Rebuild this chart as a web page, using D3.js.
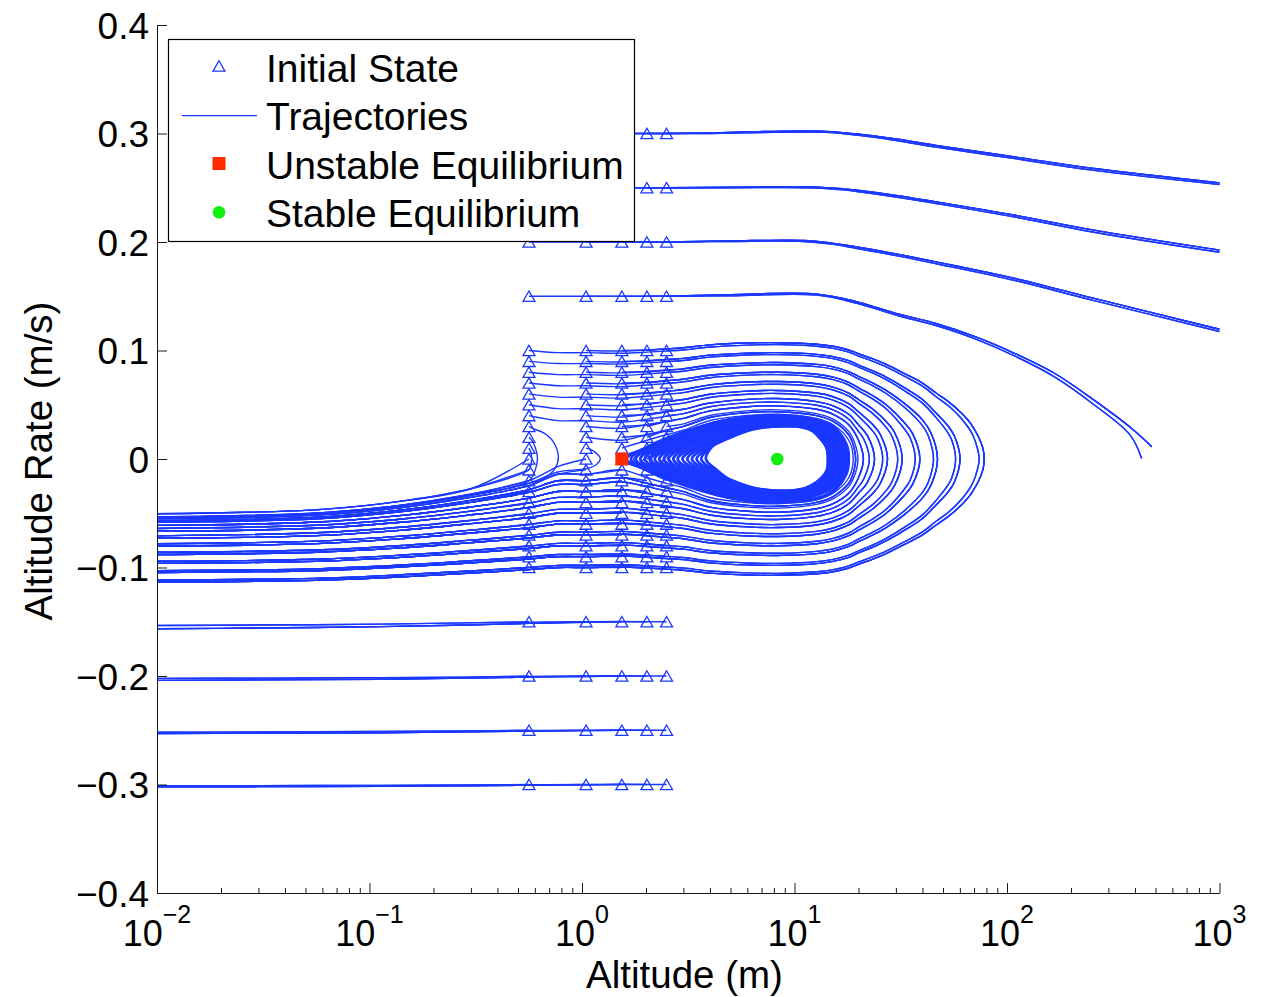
<!DOCTYPE html>
<html><head><meta charset="utf-8">
<script src="https://cdn.jsdelivr.net/npm/d3@7"></script>
<style>body{margin:0;background:#fff}svg text{font-family:"Liberation Sans",Arial,Helvetica,sans-serif}</style>
</head><body><svg id="chart" width="1262" height="997"></svg>
<script>
// ---------------- data ----------------
const initH = [0.563, 1.045, 1.54, 2.02, 2.5];
const initV = [0.3,0.25,0.2,0.15,0.1,0.09,0.08,0.07,0.06,0.05,0.04,0.03,0.02,0.01,0,-0.01,-0.02,-0.03,-0.04,-0.05,-0.06,-0.07,-0.08,-0.09,-0.1,-0.15,-0.2,-0.25,-0.3];
const unstableEq = [[1.54, 0]];
const stableEq = [[8.3, 0]];

const yTicks = [-0.4,-0.3,-0.2,-0.1,0,0.1,0.2,0.3,0.4];
const xMajor = [0.01,0.1,1,10,100,1000];
const xMajorExp = ["\u22122","\u22121","0","1","2","3"];
const xMinor = [0.02,0.03,0.04,0.05,0.06,0.07,0.08,0.09,0.2,0.3,0.4,0.5,0.6,0.7,0.8,0.9,2,3,4,5,6,7,8,9,20,30,40,50,60,70,80,90,200,300,400,500,600,700,800,900];

// fast upper trajectories (two nearly coincident variants per row)
const top030a = [[2.5,0.3],[4,0.3005],[8,0.302],[14,0.302],[19.7,0.2995],[30,0.295],[46.3,0.289],[109,0.2784],[257,0.2677],[1000,0.2545]];
const top030b = [[2.5,0.3],[4,0.3],[8,0.301],[14,0.3012],[19.7,0.2985],[30,0.2935],[46.3,0.2875],[109,0.2768],[257,0.266],[1000,0.253]];
const top025a = [[2.5,0.25],[5,0.2505],[12,0.2508],[17,0.249],[19.7,0.2477],[30,0.243],[46.3,0.237],[109,0.2247],[257,0.2109],[1000,0.1925]];
const top025b = [[2.5,0.25],[5,0.25],[12,0.25],[17,0.248],[19.7,0.2465],[30,0.2415],[46.3,0.2355],[109,0.223],[257,0.209],[1000,0.1905]];
const top020a = [[2.5,0.2],[5,0.201],[11,0.2015],[15,0.199],[19.7,0.1955],[30,0.189],[46.3,0.1817],[109,0.1664],[257,0.148],[1000,0.1196]];
const top020b = [[2.5,0.2],[5,0.2005],[11,0.2005],[15,0.198],[19.7,0.194],[30,0.1875],[46.3,0.18],[109,0.1645],[257,0.146],[1000,0.1175]];
const top015a = [[2.5,0.15],[5,0.1515],[12.8,0.152],[19.7,0.1448],[30.3,0.134],[46.3,0.1249],[71.3,0.1125],[109,0.0972],[168,0.0788],[257,0.0542],[395,0.0265],[480,0.0112]];
const top015b = [[2.5,0.15],[5,0.1505],[12.8,0.151],[19.7,0.1435],[30.3,0.1325],[46.3,0.123],[71.3,0.1105],[109,0.0948],[168,0.0755],[257,0.05],[380,0.022],[430,0.0005]];
const topRowsV = [0.3,0.25,0.2,0.15];

// fast lower trajectories
const bot015a = [[2.02,-0.15],[1.54,-0.1498],[1.045,-0.15],[0.563,-0.1503],[0.287,-0.151],[0.113,-0.1522],[0.03,-0.153],[0.01,-0.1535]];
const bot015b = [[2.02,-0.1502],[1.54,-0.15],[1.045,-0.1505],[0.563,-0.1515],[0.287,-0.153],[0.113,-0.1545],[0.03,-0.1558],[0.01,-0.1565]];
const bot020a = [[2.02,-0.2],[1.54,-0.1998],[1.045,-0.2],[0.563,-0.2003],[0.287,-0.201],[0.113,-0.2015],[0.03,-0.202],[0.01,-0.2022]];
const bot020b = [[2.02,-0.2002],[1.54,-0.2],[1.045,-0.2004],[0.563,-0.201],[0.287,-0.202],[0.113,-0.203],[0.03,-0.2036],[0.01,-0.204]];
const bot025a = [[2.02,-0.25],[1.54,-0.2498],[1.045,-0.25],[0.563,-0.2502],[0.287,-0.2507],[0.113,-0.2512],[0.03,-0.2516],[0.01,-0.2518]];
const bot025b = [[2.02,-0.2502],[1.54,-0.25],[1.045,-0.2503],[0.563,-0.2508],[0.287,-0.2515],[0.113,-0.2523],[0.03,-0.2528],[0.01,-0.253]];
const bot030a = [[2.02,-0.3],[1.54,-0.2998],[1.045,-0.3],[0.563,-0.3002],[0.287,-0.3005],[0.113,-0.3008],[0.03,-0.301],[0.01,-0.3012]];
const bot030b = [[2.02,-0.3002],[1.54,-0.3],[1.045,-0.3003],[0.563,-0.3007],[0.287,-0.3012],[0.113,-0.3017],[0.03,-0.302],[0.01,-0.3022]];
const botRowsV = [-0.15,-0.2,-0.25,-0.3];

// loop / band trajectories: |v| read at these altitude stations, per energy level
const stationH = [0.01,0.06,0.15,0.3,0.563,0.77,1.045,1.54,2.02,2.5,3,4,6,8.3,12.7,15.2,18,20,23.4,27,33,40,46.4,53,60.1,68,77];
const lvl0115 = [0.1134,0.1116,0.1084,0.1051,0.102,0.1,0.1,0.0995,0.1005,0.1015,0.1025,0.1052,0.1069,0.1072,0.1058,0.1039,0.1005,0.097,0.0922,0.0872,0.0787,0.07,0.0608,0.0529,0.0436,0.0316,0.01];
const tip0115 = [[78,0]];
const lvl0111 = [0.1116,0.1098,0.1065,0.1032,0.1,0.098,0.098,0.0975,0.0985,0.0995,0.1005,0.1032,0.105,0.1054,0.1039,0.102,0.0985,0.0949,0.09,0.0849,0.0762,0.0671,0.0574,0.049,0.0387,0.0245];
const tip0111 = [[71,0.016],[74,0]];
const lvl0096 = [0.1046,0.1027,0.0992,0.0957,0.0922,0.09,0.09,0.0894,0.0906,0.0917,0.0927,0.0957,0.0976,0.098,0.0964,0.0943,0.0906,0.0866,0.0812,0.0755,0.0656,0.0548,0.0424,0.03];
const tip0096 = [[56.5,0.0214],[60.1,0]];
const lvl00925 = [0.103,0.101,0.0975,0.0938,0.0903,0.088,0.088,0.0875,0.0886,0.0897,0.0908,0.0939,0.0958,0.0962,0.0946,0.0925,0.0886,0.0846,0.0791,0.0731,0.0628,0.0515,0.0381,0.0235];
const tip00925 = [[55,0.0173],[57.3,0]];
const lvl0079 = [0.0962,0.0941,0.0903,0.0863,0.0825,0.08,0.08,0.0794,0.0806,0.0819,0.0831,0.0864,0.0884,0.0889,0.0872,0.0849,0.0806,0.0762,0.07,0.0632,0.051,0.0361];
const tip0079 = [[44,0.0235],[47.1,0]];
const lvl00755 = [0.0943,0.0922,0.0883,0.0843,0.0803,0.0778,0.0778,0.0771,0.0784,0.0797,0.0809,0.0843,0.0864,0.0869,0.0851,0.0828,0.0784,0.0738,0.0675,0.0604,0.0474,0.0308];
const tip00755 = [[42.5,0.0219],[45.1,0]];
const lvl0064 = [0.088,0.0857,0.0815,0.0771,0.0728,0.07,0.07,0.0693,0.0707,0.0721,0.0735,0.0772,0.0795,0.08,0.0781,0.0755,0.0707,0.0656,0.0583,0.05,0.0332];
const tip0064 = [[36,0.0232],[38.9,0]];
const lvl00605 = [0.086,0.0837,0.0794,0.0748,0.0704,0.0675,0.0675,0.0667,0.0682,0.0696,0.0711,0.0749,0.0773,0.0778,0.0758,0.0731,0.0682,0.0628,0.0552,0.0464,0.0274];
const tip00605 = [[35,0.0195],[37,0]];
const lvl0051 = [0.0803,0.0778,0.0731,0.0682,0.0632,0.06,0.06,0.0592,0.0608,0.0624,0.064,0.0683,0.0709,0.0714,0.0693,0.0663,0.0608,0.0548,0.0458,0.0346];
const tip0051 = [[29.5,0.0249],[32.1,0]];
const lvl00475 = [0.0781,0.0755,0.0707,0.0656,0.0604,0.057,0.057,0.0561,0.0579,0.0596,0.0612,0.0657,0.0683,0.0689,0.0667,0.0636,0.0579,0.0515,0.0418,0.0292];
const tip00475 = [[28.8,0.0207],[30.6,0]];
const lvl004 = [0.0731,0.0704,0.0652,0.0596,0.0539,0.05,0.05,0.049,0.051,0.0529,0.0548,0.0597,0.0626,0.0632,0.0608,0.0574,0.051,0.0436,0.0316];
const tip004 = [[25.3,0.0228],[27.4,0]];
const lvl00365 = [0.0707,0.0678,0.0624,0.0566,0.0505,0.0464,0.0464,0.0453,0.0474,0.0495,0.0515,0.0567,0.0597,0.0604,0.0579,0.0543,0.0474,0.0394,0.0255];
const tip00365 = [[24.7,0.0182],[26,0]];
const lvl0031 = [0.0667,0.0636,0.0579,0.0515,0.0447,0.04,0.04,0.0387,0.0412,0.0436,0.0458,0.0516,0.055,0.0557,0.0529,0.049,0.0412,0.0316];
const tip0031 = [[22,0.0217],[23.8,0]];
const lvl00275 = [0.064,0.0608,0.0548,0.048,0.0406,0.0354,0.0354,0.0339,0.0367,0.0394,0.0418,0.0481,0.0517,0.0524,0.0495,0.0453,0.0367,0.0255];
const tip00275 = [[21.2,0.0182],[22.5,0]];
const lvl0024 = [0.0612,0.0579,0.0515,0.0442,0.0361,0.03,0.03,0.0283,0.0316,0.0346,0.0374,0.0443,0.0482,0.049,0.0458,0.0412,0.0316,0.0173];
const tip0024 = [[21.1,0]];
const lvl00205 = [0.0583,0.0548,0.048,0.04,0.0308,0.0235,0.0235,0.0212,0.0255,0.0292,0.0324,0.0401,0.0444,0.0453,0.0418,0.0367,0.0255];
const tip00205 = [[19,0.0173],[19.9,0]];
const lvl0019 = [0.057,0.0534,0.0464,0.0381,0.0283,0.02,0.02,0.0173,0.0224,0.0265,0.03,0.0382,0.0427,0.0436,0.04,0.0346,0.0224];
const tip0019 = [[18.7,0.0158],[19.4,0]];
const lvl0017 = [0.0552,0.0515,0.0442,0.0354,0.0245,0.0141,0.0141,0.01,0.0173,0.0224,0.0265,0.0355,0.0402,0.0412,0.0374,0.0316,0.0173];
const tip0017 = [[18.9,0]];
const lvl0015 = [0.0534,0.0495,0.0418,0.0324,0.02];
const lvl0012 = [0.0505,0.0464,0.0381,0.0274,0.01];

// which level each initial state follows
const loopRowV = [0.1,0.09,0.08,0.07,0.06,0.05,0.04];
const loopKeyLow = ["0111","00925","00755","00605","00475","00365","00275"];
const loopKeyHigh = ["0115","0096","0079","0064","0051","004","0031"];
const colGroup = ["low","high","high","high","low"];
const escapeExtra = [[0.03,1,"0024"],[0.03,2,"0024"],[0.03,3,"0024"],[0.03,4,"00205"],[0.02,1,"0019"],[0.02,2,"0019"],[0.02,3,"0019"],[0.01,2,"0017"]];
const leftExtra = [[-0.03,0,"00205"],[-0.03,1,"0024"],[-0.03,2,"0024"],[-0.03,3,"0024"],[-0.03,4,"00205"],[-0.02,0,"0015"],[-0.02,1,"0019"],[-0.02,2,"00205"],[-0.02,3,"0019"],[-0.01,0,"0012"],[-0.01,1,"0017"],[-0.01,2,"0017"],[0,0,"0012"]];

// slow trajectories near the equilibria
const tipArc1 = [[0.563,0.03],[0.588,0.028],[0.66,0.024],[0.733,0.0158],[0.774,0.002],[0.746,-0.0088],[0.658,-0.018],[0.511,-0.0241],[0.411,-0.0288],[0.3,-0.0324],[0.15,-0.0418],[0.06,-0.0495],[0.01,-0.0534]];
const tipArc2 = [[0.563,0.02],[0.59,0.015],[0.612,0.006],[0.617,0],[0.605,-0.009],[0.563,-0.02],[0.3,-0.033],[0.15,-0.0422],[0.06,-0.0498],[0.01,-0.0537]];
const tipArc3 = [[0.563,0.01],[0.575,0.006],[0.58,0],[0.574,-0.006],[0.563,-0.01],[0.3,-0.0274],[0.15,-0.0381],[0.06,-0.0464],[0.01,-0.0505]];
const tipArc4 = [[1.045,0.01],[1.12,0.008],[1.2,0.003],[1.22,0],[1.17,-0.005],[1.045,-0.009],[0.77,-0.012],[0.563,-0.0224],[0.3,-0.0339],[0.15,-0.043],[0.06,-0.0505],[0.01,-0.0543]];
const tipArc5 = [[1.045,0],[0.9,-0.003],[0.77,-0.007],[0.563,-0.02],[0.3,-0.0324],[0.15,-0.0418],[0.06,-0.0495],[0.01,-0.0534]];
const trap1 = [[2.02,0.01],[2.5,0.016],[3,0.022],[4.31,0.033]];
const trap2 = [[2.02,0],[2.3,0.008],[3,0.019],[4.5,0.03]];
const trap3 = [[2.02,-0.01],[1.85,-0.005],[1.8,0],[1.9,0.006],[2.09,0.011]];
const trap4 = [[2.5,0.02],[3,0.025],[4.31,0.034]];
const trap5 = [[2.5,0.01],[3,0.017],[4,0.026]];
const trap6 = [[2.5,0],[2.8,0.008],[3.5,0.019],[4.5,0.027]];
const trap7 = [[2.5,-0.01],[2.2,-0.004],[2.12,0],[2.3,0.006],[2.6,0.012]];
const trap8 = [[2.5,-0.02],[2.2,-0.014],[1.9,-0.008],[1.75,0],[2.0,0.009],[2.5,0.017]];

// trapped orbits around the stable equilibrium (closed), outermost to innermost
const bandSep = [[1.54,0],[2.09,0.011],[2.99,0.024],[4.31,0.034],[6.17,0.039],[8.83,0.04],[12.7,0.036],[15.2,0.03],[17.6,0.013],[18,0],[17.6,-0.013],[15.2,-0.03],[12.7,-0.037],[8.83,-0.04],[6.17,-0.039],[4.31,-0.033],[2.99,-0.022],[2.09,-0.01]];
const bandM01 = [[1.62,0],[2.12,0.0123],[3.02,0.0246],[4.42,0.0345],[6.5,0.0389],[9.5,0.0388],[12.9,0.0345],[15,0.03],[17.35,0.0129],[17.75,0],[17.35,-0.0127],[15,-0.0295],[12.9,-0.0355],[9.5,-0.0385],[6.5,-0.0383],[4.42,-0.0335],[3.02,-0.0232],[2.12,-0.0116]];
const band1 = [[1.7,0],[2.15,0.0136],[3.05,0.0252],[4.53,0.0349],[6.9,0.0388],[11,0.0372],[14.6,0.0291],[17.1,0.0128],[17.5,0],[17.1,-0.0124],[14.6,-0.0282],[11,-0.0361],[6.9,-0.0376],[4.53,-0.0339],[3.05,-0.0244],[2.15,-0.0132]];
const bandM12 = [[1.79,0],[2.25,0.0134],[3.16,0.0248],[4.64,0.0344],[6.99,0.0382],[11,0.0367],[14.45,0.0287],[16.9,0.0126],[17.3,0],[16.9,-0.0122],[14.45,-0.0278],[11,-0.0356],[6.99,-0.0371],[4.64,-0.0334],[3.16,-0.0241],[2.25,-0.013]];
const band2 = [[1.88,0],[2.35,0.0132],[3.27,0.0244],[4.75,0.0338],[7.08,0.0376],[11,0.0361],[14.3,0.0282],[16.7,0.0124],[17.1,0],[16.7,-0.012],[14.3,-0.0274],[11,-0.035],[7.08,-0.0365],[4.75,-0.0328],[3.27,-0.0237],[2.35,-0.0128]];
const bandM23 = [[1.98,0],[2.46,0.013],[3.39,0.024],[4.87,0.0333],[7.17,0.037],[11,0.0355],[14.2,0.0277],[16.5,0.0122],[16.9,0],[16.5,-0.0118],[14.2,-0.0269],[11,-0.0344],[7.17,-0.0359],[4.87,-0.0323],[3.39,-0.0233],[2.46,-0.0126]];
const band3 = [[2.08,0],[2.57,0.0127],[3.51,0.0236],[4.99,0.0327],[7.26,0.0363],[11,0.0348],[14.1,0.0272],[16.3,0.012],[16.7,0],[16.3,-0.0116],[14.1,-0.0264],[11,-0.0338],[7.26,-0.0352],[4.99,-0.0317],[3.51,-0.0229],[2.57,-0.0123]];
const bandM34 = [[2.2,0],[2.69,0.0125],[3.64,0.0232],[5.12,0.0322],[7.36,0.0357],[11,0.0343],[14,0.0268],[16.1,0.0118],[16.5,0],[16.1,-0.0115],[14,-0.026],[11,-0.0333],[7.36,-0.0346],[5.12,-0.0312],[3.64,-0.0225],[2.69,-0.0121]];
const band4 = [[2.31,0],[2.8,0.0123],[3.76,0.0228],[5.24,0.0316],[7.45,0.0351],[11,0.0337],[13.9,0.0263],[15.9,0.0116],[16.3,0],[15.9,-0.0113],[13.9,-0.0255],[11,-0.0327],[7.45,-0.034],[5.24,-0.0307],[3.76,-0.0221],[2.8,-0.0119]];
const bandM45 = [[2.43,0],[2.93,0.0121],[3.9,0.0224],[5.37,0.0311],[7.55,0.0345],[11,0.0331],[13.8,0.0259],[15.75,0.0114],[16.1,0],[15.75,-0.0111],[13.8,-0.0251],[11,-0.0321],[7.55,-0.0335],[5.37,-0.0302],[3.9,-0.0217],[2.93,-0.0117]];
const band5 = [[2.55,0],[3.06,0.0119],[4.03,0.022],[5.5,0.0305],[7.64,0.0339],[11,0.0325],[13.7,0.0254],[15.6,0.0112],[15.9,0],[15.6,-0.0109],[13.7,-0.0246],[11,-0.0315],[7.64,-0.0329],[5.5,-0.0296],[4.03,-0.0213],[3.06,-0.0115]];
const bandM56 = [[2.69,0],[3.2,0.0117],[4.18,0.0217],[5.64,0.03],[7.74,0.0333],[11,0.032],[13.6,0.025],[15.4,0.011],[15.7,0],[15.4,-0.0107],[13.6,-0.0242],[11,-0.031],[7.74,-0.0323],[5.64,-0.029],[4.18,-0.021],[3.2,-0.0113]];
const band6 = [[2.82,0],[3.35,0.0114],[4.32,0.0213],[5.77,0.0294],[7.83,0.0327],[11,0.0314],[13.5,0.0245],[15.2,0.0108],[15.5,0],[15.2,-0.0105],[13.5,-0.0238],[11,-0.0305],[7.83,-0.0317],[5.77,-0.0285],[4.32,-0.0207],[3.35,-0.0111]];
const bandM67 = [[2.97,0],[3.5,0.0112],[4.48,0.0209],[5.91,0.0289],[7.94,0.0321],[11,0.0308],[13.4,0.0241],[15,0.0106],[15.3,0],[15,-0.0103],[13.4,-0.0234],[11,-0.0299],[7.94,-0.0311],[5.91,-0.028],[4.48,-0.0203],[3.5,-0.0109]];
const band7 = [[3.13,0],[3.66,0.011],[4.63,0.0204],[6.05,0.0283],[8.04,0.0314],[11,0.0301],[13.3,0.0236],[14.8,0.0104],[15.1,0],[14.8,-0.0101],[13.3,-0.0229],[11,-0.0292],[8.04,-0.0305],[6.05,-0.0275],[4.63,-0.0198],[3.66,-0.0107]];
const bandM78 = [[3.29,0],[3.83,0.0108],[4.8,0.02],[6.2,0.0278],[8.14,0.0308],[11,0.0296],[13.2,0.0232],[14.65,0.0102],[14.9,0],[14.65,-0.0099],[13.2,-0.0225],[11,-0.0287],[8.14,-0.0299],[6.2,-0.027],[4.8,-0.0194],[3.83,-0.0105]];
const band8 = [[3.46,0],[4,0.0106],[4.97,0.0196],[6.35,0.0272],[8.24,0.0302],[11,0.029],[13.1,0.0227],[14.5,0.01],[14.7,0],[14.5,-0.0097],[13.1,-0.022],[11,-0.0281],[8.24,-0.0293],[6.35,-0.0264],[4.97,-0.019],[4,-0.0103]];
const bandM8h = [[3.64,0],[4.08,0.0116],[4.88,0.02],[6.04,0.0269],[7.4,0.0296],[11.2,0.029],[13.14,0.0209],[14.33,0.0099],[14.5,0],[14.33,-0.01],[12.9,-0.0215],[10.8,-0.0281],[7.4,-0.0287],[5.05,-0.0205],[4.15,-0.0103]];
const bandHole = [[3.83,0],[4.15,0.0127],[4.8,0.0204],[5.74,0.0265],[6.64,0.029],[11.41,0.029],[13.18,0.019],[14.17,0.0097],[14.33,0],[14.17,-0.0103],[12.72,-0.021],[10.6,-0.028],[6.64,-0.028],[5.13,-0.021],[4.31,-0.0103]];

// ---------------- tables built from the arrays ----------------
const levelTable = {
  "0115":[lvl0115,tip0115],"0111":[lvl0111,tip0111],"0096":[lvl0096,tip0096],"00925":[lvl00925,tip00925],
  "0079":[lvl0079,tip0079],"00755":[lvl00755,tip00755],"0064":[lvl0064,tip0064],"00605":[lvl00605,tip00605],
  "0051":[lvl0051,tip0051],"00475":[lvl00475,tip00475],"004":[lvl004,tip004],"00365":[lvl00365,tip00365],
  "0031":[lvl0031,tip0031],"00275":[lvl00275,tip00275],"0024":[lvl0024,tip0024],"00205":[lvl00205,tip00205],
  "0019":[lvl0019,tip0019],"0017":[lvl0017,tip0017],"0015":[lvl0015,[]],"0012":[lvl0012,[]]
};
function escapePath(h0, v0, key) {
  const [mag, tip] = levelTable[key];
  const pts = [[h0, v0]];
  mag.forEach((m, i) => { if (stationH[i] > h0 * 1.001) pts.push([stationH[i], m]); });
  tip.forEach(p => pts.push(p));
  for (let j = tip.length - 2; j >= 0; j--) pts.push([tip[j][0], -tip[j][1]]);
  for (let i = mag.length - 1; i >= 0; i--) pts.push([stationH[i], -mag[i]]);
  return pts;
}
function leftPath(h0, v0, key) {
  const mag = levelTable[key][0];
  const pts = [[h0, v0]];
  for (let i = mag.length - 1; i >= 0; i--) if (stationH[i] < h0 * 0.999) pts.push([stationH[i], -mag[i]]);
  return pts;
}
const openPaths = [];
topRowsV.forEach((v, r) => {
  const A = [top030a, top025a, top020a, top015a][r], B = [top030b, top025b, top020b, top015b][r];
  initH.forEach((h, c) => {
    const seg = (c >= 1 && c <= 3) ? A : B;
    openPaths.push([[h, v]].concat(seg.filter(p => p[0] > h * 1.001)));
  });
});
botRowsV.forEach((v, r) => {
  const A = [bot015a, bot020a, bot025a, bot030a][r], B = [bot015b, bot020b, bot025b, bot030b][r];
  initH.forEach((h, c) => {
    const seg = (c >= 1 && c <= 3) ? B : A;
    openPaths.push([[h, v]].concat(seg.filter(p => p[0] < h * 0.999)));
  });
});
loopRowV.forEach((v, r) => {
  initH.forEach((h, c) => {
    const key = colGroup[c] === "low" ? loopKeyLow[r] : loopKeyHigh[r];
    openPaths.push(escapePath(h, v, key));
    openPaths.push(leftPath(h, -v, key));
  });
});
escapeExtra.forEach(([v, c, k]) => openPaths.push(escapePath(initH[c], v, k)));
leftExtra.forEach(([v, c, k]) => openPaths.push(leftPath(initH[c], v, k)));
[tipArc1, tipArc2, tipArc3, tipArc4, tipArc5, trap1, trap2, trap3, trap4, trap5, trap6, trap7, trap8].forEach(p => openPaths.push(p));
const closedPaths = [bandSep, bandM01, band1, bandM12, band2, bandM23, band3, bandM34, band4, bandM45, band5, bandM56, band6, bandM67, band7, bandM78, band8, bandM8h, bandHole];

// ---------------- drawing ----------------
const svg = d3.select("#chart");
const L = 157, R = 1219.5, T = 25, B = 893;
const x = d3.scaleLog().domain([0.01, 1000]).range([L, R]);
const y = d3.scaleLinear().domain([-0.4, 0.4]).range([B, T]);
const blue = "#1a38ff";
const ink = "#1a1a1a";

svg.append("defs").append("clipPath").attr("id", "plotclip")
  .append("rect").attr("x", L).attr("y", T - 8).attr("width", R - L + 1).attr("height", B - T + 8);

const lineOpen = d3.line().x(d => x(d[0])).y(d => y(d[1])).curve(d3.curveCatmullRom.alpha(0.5));
const lineClosed = d3.line().x(d => x(d[0])).y(d => y(d[1])).curve(d3.curveCatmullRomClosed.alpha(0.5));

const plot = svg.append("g").attr("clip-path", "url(#plotclip)");
plot.append("g").selectAll("path").data(openPaths).join("path")
  .attr("d", lineOpen).attr("fill", "none").attr("stroke", blue).attr("stroke-width", 1.4);
plot.append("g").selectAll("path").data(closedPaths).join("path")
  .attr("d", lineClosed).attr("fill", "none").attr("stroke", blue).attr("stroke-width", 2.8);

// initial-state markers
const states = [];
initV.forEach(v => initH.forEach(h => states.push([h, v])));
const tri = d3.symbol(d3.symbolTriangle, 62);
svg.append("g").selectAll("path").data(states).join("path")
  .attr("d", tri).attr("transform", d => `translate(${x(d[0])},${y(d[1]) + 1.7})`)
  .attr("fill", "none").attr("stroke", blue).attr("stroke-width", 1.3);

// equilibria
svg.append("g").selectAll("rect").data(unstableEq).join("rect")
  .attr("x", d => x(d[0]) - 6.5).attr("y", d => y(d[1]) - 6.5).attr("width", 13).attr("height", 13)
  .attr("fill", "#ff2a00");
svg.append("g").selectAll("circle").data(stableEq).join("circle")
  .attr("cx", d => x(d[0])).attr("cy", d => y(d[1])).attr("r", 6.3).attr("fill", "#11ee11");

// axes
const fmtY = d => d === 0 ? "0" : (d < 0 ? "\u2212" : "") + Math.abs(d).toFixed(1);
const gy = svg.append("g").attr("transform", `translate(${L},0)`)
  .call(d3.axisLeft(y).tickValues(yTicks).tickSizeInner(-10).tickSizeOuter(0).tickPadding(8).tickFormat(fmtY));
gy.selectAll("text").attr("font-size", 37).attr("fill", "#000").attr("dy", "0.36em")
  .attr("font-family", "'Liberation Sans',Arial,sans-serif");
const gx = svg.append("g").attr("transform", `translate(0,${B})`)
  .call(d3.axisBottom(x).tickValues(xMajor).tickSizeInner(-10).tickSizeOuter(0).tickFormat(""));
const gxm = svg.append("g").attr("transform", `translate(0,${B})`)
  .call(d3.axisBottom(x).tickValues(xMinor).tickSizeInner(-5).tickSizeOuter(0).tickFormat(""));
gxm.select(".domain").remove();
svg.selectAll(".domain, .tick line").attr("stroke", ink);

const xl = svg.append("g").selectAll("text").data(xMajor).join("text")
  .attr("x", d => x(d)).attr("y", 946).attr("text-anchor", "middle").attr("fill", "#000");
xl.append("tspan").attr("font-size", 36).text("10");
xl.append("tspan").attr("font-size", 25).attr("dy", -23).text((d, i) => xMajorExp[i]);

svg.append("text").attr("x", 684.5).attr("y", 988).attr("text-anchor", "middle")
  .attr("font-size", 38.5).attr("fill", "#000").text("Altitude (m)");
svg.append("text").attr("transform", "translate(52,461) rotate(-90)").attr("text-anchor", "middle")
  .attr("font-size", 38.5).attr("fill", "#000").text("Altitude Rate (m/s)");

// legend
const lg = svg.append("g");
lg.append("rect").attr("x", 168.5).attr("y", 39.5).attr("width", 466).attr("height", 202)
  .attr("fill", "#fff").attr("stroke", "#000").attr("stroke-width", 1.2);
const legendItems = ["Initial State", "Trajectories", "Unstable Equilibrium", "Stable Equilibrium"];
const legendBase = [82, 130, 178.5, 227];
lg.selectAll("text").data(legendItems).join("text")
  .attr("x", 266).attr("y", (d, i) => legendBase[i]).attr("font-size", 39).attr("fill", "#000").text(d => d);
lg.append("path").attr("d", tri).attr("transform", "translate(219,67.7)")
  .attr("fill", "none").attr("stroke", blue).attr("stroke-width", 1.3);
lg.append("line").attr("x1", 182).attr("x2", 257).attr("y1", 115.7).attr("y2", 115.7)
  .attr("stroke", blue).attr("stroke-width", 1.3);
lg.append("rect").attr("x", 212.5).attr("y", 157).attr("width", 13).attr("height", 13).attr("fill", "#ff2a00");
lg.append("circle").attr("cx", 219).attr("cy", 212.3).attr("r", 6.3).attr("fill", "#11ee11");
</script></body></html>
